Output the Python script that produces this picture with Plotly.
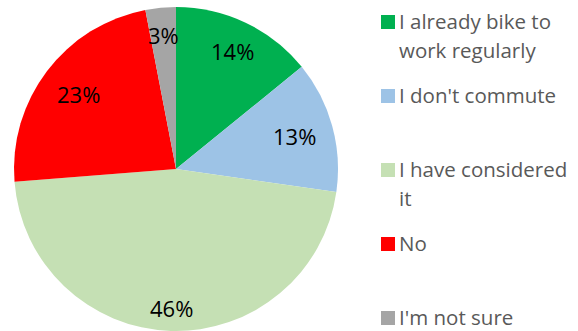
import math
import plotly.graph_objects as go

# Survey answers, in clockwise order from 12 o'clock
answers = [
    "I already bike to work regularly",
    "I don't commute",
    "I have considered it",
    "No",
    "I'm not sure",
]
legend_lines = [
    ["I already bike to", "work regularly"],
    ["I don't commute"],
    ["I have considered", "it"],
    ["No"],
    ["I'm not sure"],
]
shares = [14, 13, 46, 23, 3]  # percent of respondents
colors = ["#00B050", "#9DC3E6", "#C5E0B4", "#FF0000", "#A5A5A5"]

W, H = 578, 331
# pie placement in pixels
cx, cy, r = 176, 169, 162
label_r = [0.81, 0.76, 0.86, 0.76, 0.83]  # label distance from centre, as share of radius

FONT = "'Open Sans', Lato, sans-serif"

fig = go.Figure(
    go.Pie(
        labels=answers,
        values=shares,
        marker=dict(colors=colors, line=dict(width=0)),
        sort=False,
        direction="clockwise",
        rotation=0,
        textinfo="none",
        hoverinfo="label+percent",
        showlegend=False,
        domain=dict(x=[(cx - r) / W, (cx + r) / W], y=[(H - cy - r) / H, (H - cy + r) / H]),
    )
)

annotations = []
shapes = []

# percentage labels placed at each slice's mid angle
total = sum(shares)
cum = 0
for v, fr in zip(shares, label_r):
    mid = (cum + v / 2) / total * 2 * math.pi
    cum += v
    px = cx + fr * r * math.sin(mid)
    py = cy - fr * r * math.cos(mid)
    annotations.append(
        dict(
            x=px / W, y=1 - py / H, xref="paper", yref="paper",
            text=f"{v}%", showarrow=False,
            font=dict(family=FONT, size=22, color="#000000"),
            xanchor="center", yanchor="middle",
        )
    )

# legend on the right
top, step, line_gap = 21, 74, 29
for i, (lines, col) in enumerate(zip(legend_lines, colors)):
    y0 = top + i * step
    shapes.append(
        dict(
            type="rect", xref="paper", yref="paper",
            x0=381 / W, x1=395 / W, y0=1 - (y0 - 6) / H, y1=1 - (y0 + 8) / H,
            fillcolor=col, line=dict(width=0),
        )
    )
    for j, t in enumerate(lines):
        annotations.append(
            dict(
                x=397 / W, y=1 - (y0 + j * line_gap) / H, xref="paper", yref="paper",
                text=t, showarrow=False,
                font=dict(family=FONT, size=20.5, color="#595959"),
                xanchor="left", yanchor="middle",
            )
        )

fig.update_layout(
    width=W, height=H,
    margin=dict(l=0, r=0, t=0, b=0),
    paper_bgcolor="white",
    plot_bgcolor="white",
    annotations=annotations,
    shapes=shapes,
)

fig.write_html("out.html")
